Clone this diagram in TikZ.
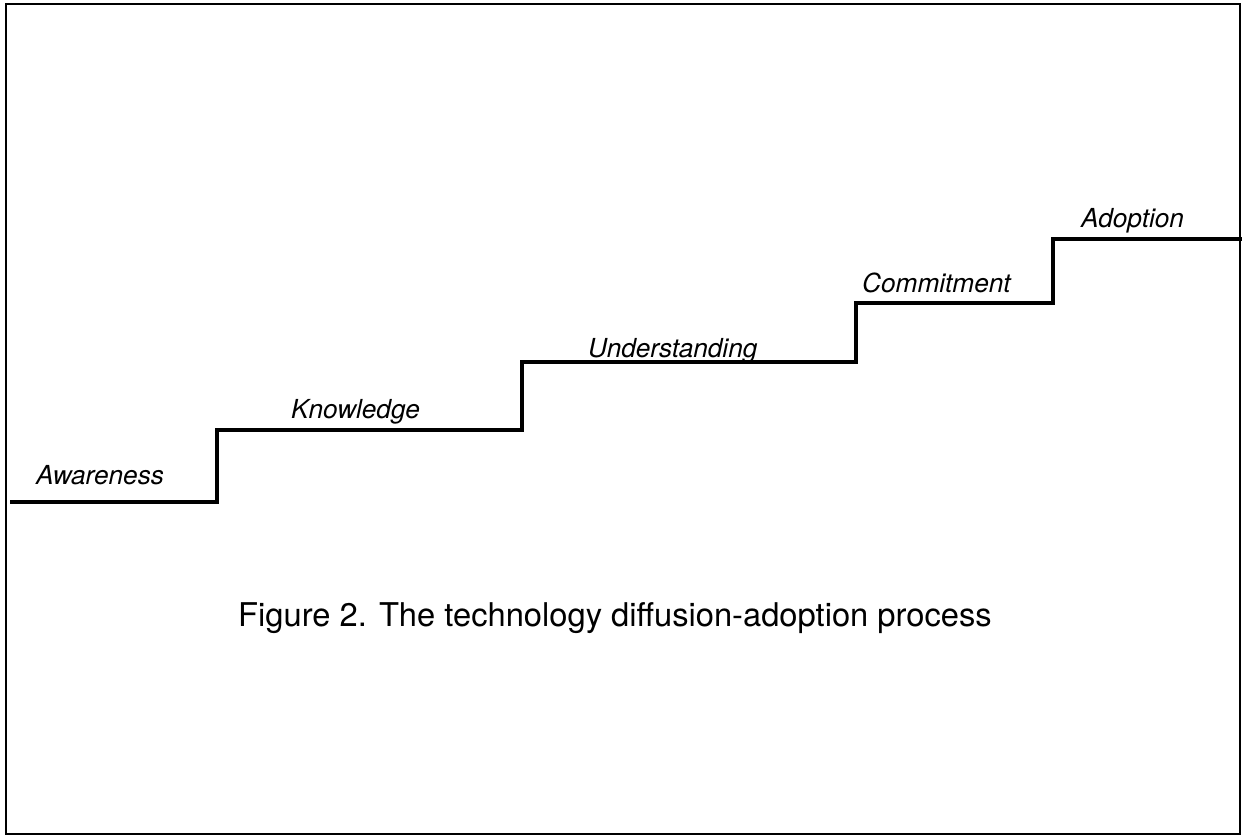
\documentclass[tikz,border=0pt]{standalone}
\usepackage{fontspec}
\setmainfont{TeX Gyre Heros}
\begin{document}
\begin{tikzpicture}[x=1pt,y=-1pt,
  stair/.style={line width=4pt,line join=miter,line cap=rect},
  frame/.style={line width=2.6pt},
  steplabel/.style={anchor=base west,inner sep=0pt,font=\fontsize{26.2}{30}\selectfont\itshape},
  captionlabel/.style={anchor=base west,inner sep=0pt,font=\fontsize{32.7}{38}\selectfont}]
\useasboundingbox (0,0) rectangle (1243,837);
\fill[white] (0,0) rectangle (1243,837);
\draw[frame] (6,4) rectangle (1240,834);
\coordinate (s0) at (12,502);
\coordinate (s1) at (217,502);
\coordinate (s2) at (217,430);
\coordinate (s3) at (522,430);
\coordinate (s4) at (522,362);
\coordinate (s5) at (856,362);
\coordinate (s6) at (856,303);
\coordinate (s7) at (1053,303);
\coordinate (s8) at (1053,239);
\coordinate (s9) at (1240,239);
\draw[stair] (s0) -- (s1) -- (s2) -- (s3) -- (s4) -- (s5) -- (s6) -- (s7) -- (s8) -- (s9);
\node[steplabel] (aware) at (36,484) {Awareness};
\node[steplabel] (know) at (291,418) {Knowledge};
\node[steplabel] (under) at (588,357) {Understanding};
\node[steplabel] (commit) at (862,292) {Commitment};
\node[steplabel] (adopt) at (1081,228) {Adoption};
\node[captionlabel] (cap) at (238,626) {Figure 2. The technology diffusion-adoption process};
\end{tikzpicture}
\end{document}
